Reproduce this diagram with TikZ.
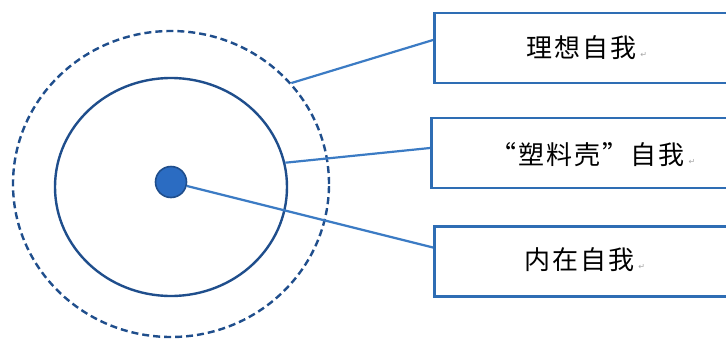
\documentclass[tikz,border=0pt]{standalone}
\usepackage{fontspec}
\usetikzlibrary{shapes.geometric}
\newfontfamily\cjk[LetterSpace=8]{Noto Sans CJK SC}
\newfontfamily\symfont{DejaVu Sans}
\definecolor{ringblue}{HTML}{1F4E8C}
\definecolor{boxblue}{HTML}{2E6DB4}
\definecolor{linkblue}{HTML}{3B7BC4}
\definecolor{dotblue}{HTML}{2B6CC2}
\newcommand{\parmark}{\hspace{4pt}{\color{gray!70}\symfont\fontsize{8}{8}\selectfont ↵}}
\tikzset{
  labelbox/.style={draw=boxblue, line width=2.6pt, fill=white, minimum width=310pt,
    minimum height=70pt, inner sep=0pt, anchor=west},
  boxtext/.style={inner sep=0pt, anchor=west, font=\cjk\fontsize{26}{26}\selectfont},
  link/.style={draw=linkblue, line width=2.2pt},
  ring/.style={draw=ringblue, line width=2.4pt, ellipse, inner sep=0pt}
}
\begin{document}
\begin{tikzpicture}[x=1pt, y=-1pt]
  \clip (0,0) rectangle (726,338);
  \fill[white] (0,0) rectangle (726,338);

  % concentric rings
  \node[ring, dash pattern=on 7pt off 4pt, minimum width=316pt, minimum height=306pt] (outer) at (171,184) {};
  \node[ring, minimum width=232pt, minimum height=218pt] (inner) at (171,187) {};
  \node[circle, draw=ringblue, line width=1.6pt, fill=dotblue, minimum size=31pt, inner sep=0pt] (core) at (171,182) {};

  % label boxes
  \node[labelbox] (ideal) at (433,48) {};
  \node[labelbox] (shell) at (430,153) {};
  \node[labelbox] (inside) at (433,261.5) {};

  \node[boxtext] (t1) at (526,48) {理想自我\parmark};
  \node[boxtext] (t2) at (490,155) {“塑料壳”自我\parmark};
  \node[boxtext] (t3) at (524,260) {内在自我\parmark};

  % connectors
  \draw[link] (outer.40) -- ([yshift=8pt]ideal.west);
  \draw[link] (inner.12) -- ([yshift=5pt]shell.west);
  \draw[link] (core) -- ([yshift=14pt]inside.west);
\end{tikzpicture}
\end{document}
